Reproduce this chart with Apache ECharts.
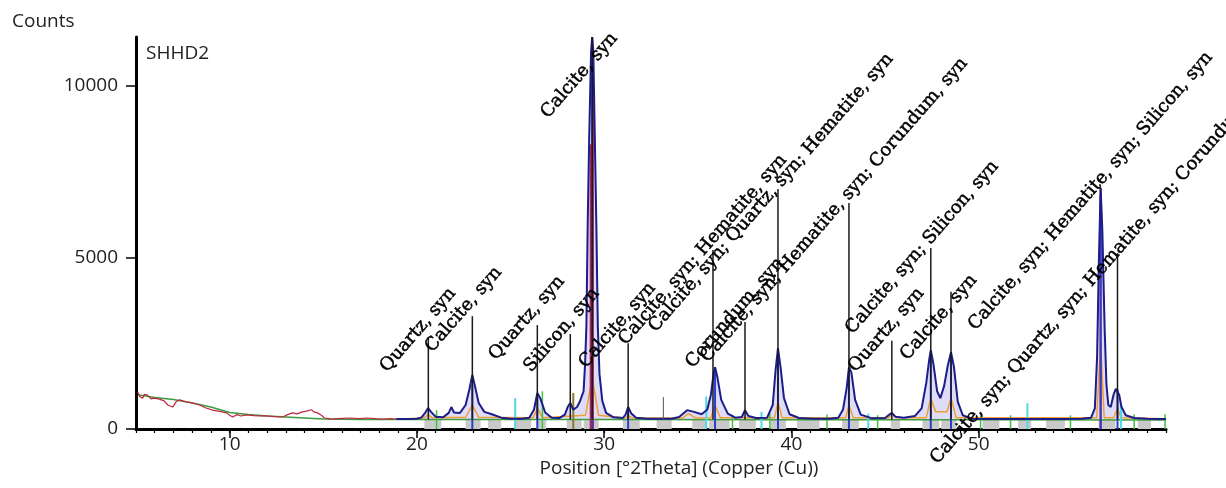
<!DOCTYPE html>
<html>
<head>
<meta charset="utf-8">
<script src="https://cdn.jsdelivr.net/npm/echarts@6/dist/echarts.min.js"></script>
<style>
html, body { margin: 0; padding: 0; background: #fff; }
#main { width: 1226px; height: 488px; }
</style>
</head>
<body>
<div id="main"></div>
<script>
// fitted profile (2theta, counts)
var profile = [
  [18.9,290],[19.5,290],[20.0,300],[20.25,340],[20.45,480],[20.6,610],[20.75,500],[21.0,360],[21.4,340],[21.7,470],
  [21.84,640],[21.98,480],[22.3,470],[22.6,700],[22.8,1150],[22.96,1575],[23.1,1250],[23.3,760],[23.6,500],[24.0,430],
  [24.5,330],[25.0,300],[25.6,300],[26.0,330],[26.25,560],[26.43,1050],[26.6,880],[26.85,480],[27.2,330],[27.6,320],
  [27.9,420],[28.05,640],[28.19,760],[28.35,560],[28.55,640],[28.7,800],[28.9,1100],[28.98,1900],[29.05,3000],[29.12,6000],
  [29.2,8500],[29.3,11000],[29.36,11430],[29.42,11000],[29.5,8500],[29.58,6000],[29.66,3000],[29.75,1600],[29.9,820],[30.1,470],
  [30.5,340],[31.0,320],[31.15,430],
  [31.28,640],[31.45,450],[31.7,330],[32.3,300],[33.0,300],[33.6,300],[34.0,350],[34.43,550],[34.8,500],[35.2,430],
  [35.5,560],[35.7,1000],[35.85,1650],[35.92,1800],[36.05,1500],[36.25,850],[36.6,450],[37.0,330],[37.35,350],[37.52,550],
  [37.7,380],[38.1,320],[38.7,330],[39.0,700],[39.15,1700],[39.28,2360],[39.42,1800],[39.6,900],[39.9,430],[40.4,320],
  [41.2,300],[42.0,300],[42.5,330],[42.75,560],[42.95,1200],[43.07,1800],[43.2,1650],[43.4,850],[43.7,420],[44.3,310],
  [45.0,320],[45.25,430],[45.36,470],[45.55,360],[46.0,330],[46.6,380],[46.95,600],[47.2,1350],[47.35,2000],[47.44,2300],
  [47.58,1900],[47.78,1100],[47.95,900],[48.15,1250],[48.35,1850],[48.52,2240],[48.68,1800],[48.88,800],[49.15,400],[49.6,300],
  [50.5,290],[51.5,290],[52.5,290],[53.5,290],[54.5,290],[55.5,300],[56.0,330],[56.2,600],[56.32,2100],[56.42,5000],
  [56.51,7030],[56.6,5800],[56.72,3000],[56.82,1300],[56.92,700],[57.05,640],[57.2,1000],[57.32,1170],[57.41,1200],[57.5,1000],
  [57.62,650],[57.85,400],[58.3,320],[59.0,300],[59.6,290],[60.0,290]
];

// raw scan at low angle
var rawLow = [
  [5.09,1080],[5.2,950],[5.35,900],[5.45,1010],[5.61,990],[5.8,880],[6.0,900],[6.25,870],[6.5,820],[6.7,700],
  [6.96,640],[7.15,800],[7.33,850],[7.5,820],[7.71,790],[8.0,760],[8.4,700],[8.7,620],[9.09,550],[9.4,520],
  [9.84,470],[10.0,400],[10.16,350],[10.4,420],[10.6,380],[10.91,410],[11.3,390],[11.6,380],[11.97,380],[12.4,360],
  [12.83,350],[13.1,420],[13.36,470],[13.6,440],[13.89,500],[14.1,520],[14.37,560],[14.5,500],[14.69,470],[14.9,400],
  [15.07,320],[15.3,300],[15.49,290],[16.0,310],[16.4,320],[16.9,300],[17.31,320],[17.8,300],[18.16,290],[18.6,300],[18.9,290]
];

var background = [
  [5.1,1000],[6,920],[7,860],[8,760],[9,640],[10,480],[11,420],[12,380],[13,350],[14,320],[15,290],[17,280],
  [20,280],[30,280],[40,270],[50,270],[60,260]
];

var partial = [
  [19.5,300],[20.4,330],[20.6,420],[20.8,330],[22.6,340],[22.96,700],[23.3,340],[26.2,330],[26.45,600],[26.7,330],
  [29.0,400],[29.36,1500],[29.7,400],[31.1,320],[31.28,400],[31.5,320],[34.2,320],[34.5,450],[34.9,320],[35.7,330],
  [35.92,700],[36.2,330],[39.1,330],[39.28,800],[39.5,330],[42.9,330],[43.07,700],[43.3,330],[45.2,330],[45.36,430],
  [45.6,330],[47.2,330],[47.44,900],[47.7,500],[48.3,500],[48.52,900],[48.8,330],[56.3,330],[56.51,2500],[56.7,330],
  [57.2,330],[57.41,600],[57.6,330],[60,300]
];

// reference pattern lines: [2theta, top, base]
var blackSticks = [
  [20.61,2680,280],[22.96,3290,280],[26.43,3030,280],[28.19,2770,280],[29.36,11430,280],[31.28,2500,280],
  [35.81,5220,280],[37.52,3120,280],[39.28,7000,280],[43.07,6590,280],[45.36,2570,280],[47.44,5280,280],
  [48.52,4000,280],[57.41,5130,280]
];
var thinSticks = [[33.16,930,280]];
var blueSticks = [
  [22.96,1300,0],[26.43,900,0],[29.36,11430,0],[31.28,600,0],[35.92,1700,0],[39.28,2300,0],[43.07,1700,0],
  [47.44,2200,0],[48.52,2100,0],[56.51,6800,0],[57.41,1150,0]
];
var cyanSticks = [[25.25,900,0],[35.45,950,0],[38.4,500,0],[44.1,450,0],[52.6,750,0],[57.6,700,0]];
var greenSticks = [
  [21.05,550,0],[26.7,1100,0],[36.85,420,0],[38.85,450,0],[41.9,420,0],[44.6,400,0],[50.1,400,0],
  [51.7,400,0],[54.9,400,0],[58.3,420,0],[59.95,430,0]
];
var oliveSticks = [[28.35,1050,0]];
var redSticks = [[56.51,7030,0],[29.4,10000,0],[29.28,8300,0]];

// reference pattern blocks [from, to]
var grayBlocks = [
  [20.4,21.3],[22.6,23.4],[23.8,24.5],[25.2,26.1],[26.4,26.9],[28.0,28.8],[28.9,29.7],[31.0,31.9],[32.8,33.6],
  [34.7,35.5],[35.6,36.7],[37.2,38.1],[38.9,39.7],[40.3,41.5],[42.7,43.6],[45.3,45.8],[47.0,47.9],[48.0,48.8],
  [50.2,51.1],[52.1,52.8],[53.6,54.6],[56.4,57.3],[58.5,59.2]
];

// phase labels: text start point [2theta, counts]
var labelTexts = [
  'Quartz, syn', 'Calcite, syn', 'Quartz, syn', 'Silicon, syn', 'Calcite, syn', 'Calcite, syn',
  'Calcite, syn; Hematite, syn', 'Calcite, syn; Quartz, syn; Hematite, syn', 'Corundum, syn',
  'Calcite, syn; Hematite, syn; Corundum, syn', 'Calcite, syn; Silicon, syn', 'Quartz, syn', 'Calcite, syn',
  'Calcite, syn; Hematite, syn; Silicon, syn', 'Calcite, syn; Quartz, syn; Hematite, syn; Corundum, syn'
];
var labelTheta = [18.59, 20.99, 24.4, 26.27, 29.2, 27.17, 31.33, 32.93, 34.91, 35.71, 43.44, 43.6, 46.37, 50.0, 47.97];
var labelCounts = [1560, 2140, 1910, 1560, 1680, 8965, 2350, 2730, 1680, 1850, 2670, 1560, 1910, 2780, -1120];

var xTicks = [10, 20, 30, 40, 50];

var myChart = echarts.init(document.getElementById('main'));

function stickSeries(data, color, width, z) {
    return {
        type: 'custom',
        data: data,
        z: z,
        silent: true,
        encode: { x: 0, y: 1 },
        renderItem: function (params, api) {
            var b = api.coord([api.value(0), api.value(2)]);
            var t = api.coord([api.value(0), api.value(1)]);
            return {
                type: 'line',
                shape: { x1: b[0], y1: b[1], x2: t[0], y2: t[1] },
                style: { stroke: color, lineWidth: width }
            };
        }
    };
}

var labelData = [];
for (var i = 0; i < labelTexts.length; i++) {
    labelData.push([labelTheta[i], labelCounts[i], i]);
}

var option = {
    animation: false,
    title: [
        { text: 'Counts', left: 7, top: 7, textStyle: { fontFamily: 'Open Sans', fontSize: 19, fontWeight: 'normal', color: '#222' } },
        { text: 'SHHD2', left: 141, top: 39, textStyle: { fontFamily: 'Open Sans', fontSize: 19, fontWeight: 'normal', color: '#222' } }
    ],
    grid: { left: 136, right: 60, top: 37, bottom: 59 },
    xAxis: [{
        type: 'value',
        position: 'bottom',
        min: 5,
        max: 60,
        name: 'Position [°2Theta] (Copper (Cu))',
        nameLocation: 'middle',
        nameGap: 29,
        nameTextStyle: { fontFamily: 'Open Sans', fontSize: 19, color: '#222', padding: [0, 0, 0, 56] },
        axisLine: { lineStyle: { color: '#000', width: 3 } },
        axisTick: { customValues: xTicks, length: 9, lineStyle: { color: '#000', width: 1.5 } },
        axisLabel: { customValues: xTicks, margin: 6, fontFamily: 'Open Sans', fontSize: 19, color: '#222' },
        splitLine: { show: false }
    }, {
        type: 'value',
        position: 'bottom',
        min: 5,
        max: 60,
        interval: 1,
        axisLine: { show: false },
        axisTick: { length: 4, lineStyle: { color: '#000', width: 1.2 } },
        axisLabel: { show: false },
        splitLine: { show: false }
    }],
    yAxis: {
        type: 'value',
        min: 0,
        max: 11430,
        interval: 5000,
        axisLine: { show: true, lineStyle: { color: '#000', width: 3 } },
        axisTick: { show: true, length: 10, lineStyle: { color: '#000', width: 1.5 } },
        axisLabel: {
            showMaxLabel: false, margin: 18, fontFamily: 'Open Sans', fontSize: 19, color: '#222',
            formatter: function (v) { return String(v); }
        },
        splitLine: { show: false }
    },
    series: [
        {
            type: 'custom',
            data: grayBlocks,
            z: 1,
            silent: true,
            encode: { x: [0, 1] },
            renderItem: function (params, api) {
                var a = api.coord([api.value(0), 260]);
                var b = api.coord([api.value(1), 0]);
                return {
                    type: 'rect',
                    shape: { x: a[0], y: a[1], width: b[0] - a[0], height: b[1] - a[1] },
                    style: { fill: '#c9c9c9' }
                };
            }
        },
        {
            type: 'line',
            data: profile.filter(function (p) { return p[0] >= 19.8; }),
            showSymbol: false,
            z: 2,
            lineStyle: { width: 0 },
            areaStyle: { color: 'rgba(165,155,235,0.5)', origin: 280 }
        },
        {
            type: 'line', data: background, showSymbol: false, z: 3,
            lineStyle: { color: '#3c9b3c', width: 1.5 }
        },
        {
            type: 'line', data: partial, showSymbol: false, z: 3,
            lineStyle: { color: '#f0a030', width: 1.5 }
        },
        stickSeries(greenSticks, '#40c040', 1.5, 4),
        stickSeries(cyanSticks, '#50d8e8', 2, 4),
        stickSeries(oliveSticks, '#8a7a30', 2, 4),
        stickSeries(redSticks, '#c8203c', 2, 4),
        stickSeries(blueSticks, '#2a3ed0', 2, 5),
        {
            type: 'line', data: rawLow, showSymbol: false, z: 6,
            lineStyle: { color: '#c02840', width: 1.2 }
        },
        {
            type: 'line', data: profile, showSymbol: false, z: 7,
            lineStyle: { color: '#1c1c8a', width: 2 }
        },
        stickSeries(blackSticks, '#1a1a1a', 1.5, 8),
        stickSeries(thinSticks, '#555', 1, 8),
        {
            type: 'custom',
            data: labelData,
            z: 9,
            silent: true,
            clip: false,
            encode: { x: 0, y: 1 },
            renderItem: function (params, api) {
                var p = api.coord([api.value(0), api.value(1)]);
                return {
                    type: 'text',
                    x: p[0],
                    y: p[1],
                    rotation: 49 * Math.PI / 180,
                    style: {
                        text: labelTexts[api.value(2)],
                        font: '18px "DejaVu Serif"',
                        fill: '#000',
                        stroke: '#000',
                        lineWidth: 0.5,
                        textAlign: 'left',
                        textVerticalAlign: 'bottom'
                    }
                };
            }
        }
    ]
};
myChart.setOption(option);
window.onresize = function () {
    myChart.resize();
};
</script>
</body>
</html>
